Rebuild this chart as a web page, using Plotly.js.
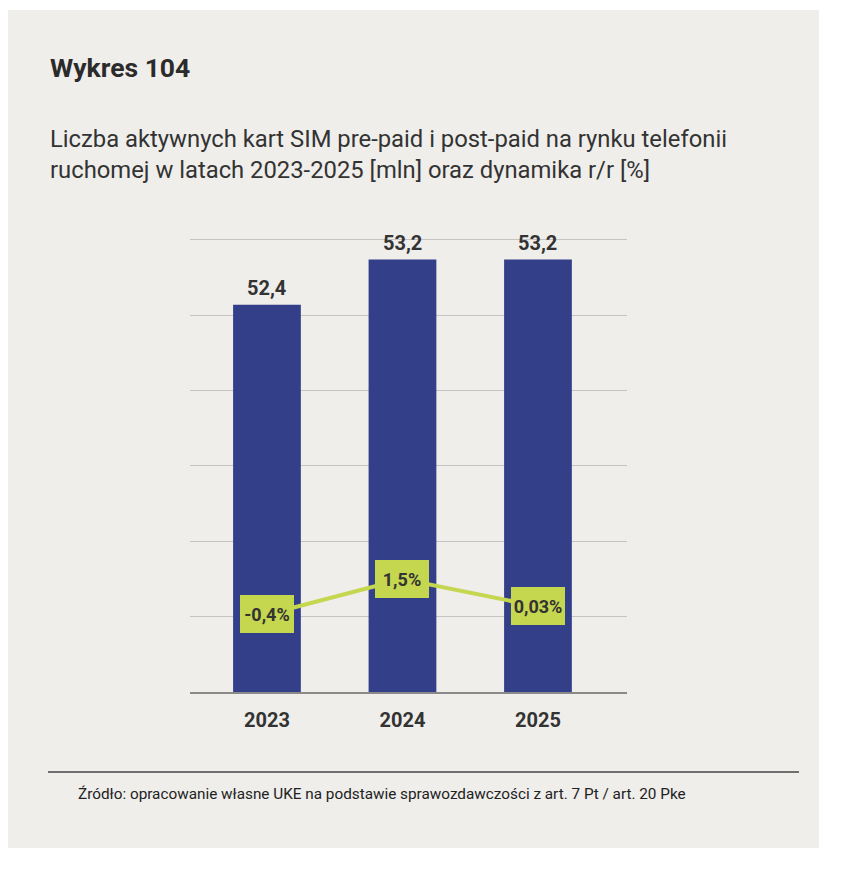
<!DOCTYPE html>
<html>
<head>
<meta charset="utf-8">
<script src="https://cdn.plot.ly/plotly-3.0.1.min.js"></script>
<style>
html,body{margin:0;padding:0;background:#ffffff;}
#chart{width:844px;height:876px;}
</style>
</head>
<body>
<div id="chart"></div>
<script>
// ---- data ----
const years = ['2023', '2024', '2025'];
const simCards = [52.4, 53.2, 53.2];           // mln
const simLabels = ['52,4', '53,2', '53,2'];
const yoyChange = [-0.4, 1.5, 0.03];           // %
const yoyLabels = ['-0,4%', '1,5%', '0,03%'];

const titleText = 'Wykres 104';
const subtitleText = 'Liczba aktywnych kart SIM pre-paid i post-paid na rynku telefonii<br>ruchomej w latach 2023-2025 [mln] oraz dynamika r/r [%]';
const sourceText = 'Źródło: opracowanie własne UKE na podstawie sprawozdawczości z art. 7 Pt / art. 20 Pke';

// category positions (index of each year)
const xPos = years.map((_, i) => i);

// ---- layout geometry (pixels) ----
const W = 844, H = 876;
const L = 190, R = 627, T = 237, B = 692;
const fx = px => (px - L) / (R - L);
const fy = py => (B - py) / (B - T);

const navy = '#333f88';
const lime = '#c5d64f';
const textDark = '#333333';
const font = 'Roboto, "Open Sans", sans-serif';

const bars = {
  type: 'bar',
  x: xPos,
  y: simCards,
  width: 0.5,
  marker: {color: navy, line: {width: 0}},
  hoverinfo: 'skip',
  showlegend: false
};

const line = {
  type: 'scatter',
  mode: 'lines',
  x: xPos,
  y: yoyChange,
  yaxis: 'y2',
  line: {color: lime, width: 4},
  hoverinfo: 'skip',
  showlegend: false
};

const annotations = [];
simCards.forEach((v, i) => {
  annotations.push({
    x: xPos[i], y: v, xref: 'x', yref: 'y',
    text: simLabels[i], showarrow: false,
    yanchor: 'bottom', yshift: 3,
    font: {family: font, size: 20, weight: 700, color: textDark}
  });
});
yoyChange.forEach((v, i) => {
  annotations.push({
    x: xPos[i], y: v, xref: 'x', yref: 'y2',
    text: yoyLabels[i], showarrow: false,
    xanchor: 'center', yanchor: 'middle',
    bgcolor: lime, borderpad: 2, borderwidth: 0,
    width: 50, height: 34,
    font: {family: font, size: 18, weight: 700, color: textDark}
  });
});
annotations.push({
  x: fx(48), y: fy(67), xref: 'paper', yref: 'paper',
  xanchor: 'left', yanchor: 'middle', showarrow: false,
  text: titleText,
  font: {family: font, size: 26.5, weight: 700, color: '#2b2b2b'}
});
annotations.push({
  x: fx(48), y: fy(154), xref: 'paper', yref: 'paper',
  xanchor: 'left', yanchor: 'middle', align: 'left', showarrow: false,
  text: subtitleText,
  font: {family: font, size: 23.8, color: textDark}
});
annotations.push({
  x: fx(76), y: fy(794), xref: 'paper', yref: 'paper',
  xanchor: 'left', yanchor: 'middle', align: 'left', showarrow: false,
  text: sourceText,
  font: {family: font, size: 15.3, color: '#222222'}
});

const shapes = [
  {type: 'rect', xref: 'paper', yref: 'paper', layer: 'below',
   x0: fx(8), x1: fx(819), y0: fy(848), y1: fy(10),
   fillcolor: '#efeeeb', line: {width: 0}},
  {type: 'line', xref: 'paper', yref: 'paper', layer: 'above',
   x0: fx(48), x1: fx(799), y0: fy(772), y1: fy(772),
   line: {color: '#707070', width: 2}}
];

const layout = {
  width: W, height: H,
  margin: {l: L, r: W - R, t: T, b: H - B, pad: 0},
  paper_bgcolor: '#ffffff',
  plot_bgcolor: 'rgba(0,0,0,0)',
  showlegend: false,
  xaxis: {
    type: 'linear',
    range: [-0.568, 2.657],
    tickmode: 'array', tickvals: xPos, ticktext: years,
    showgrid: false, zeroline: false,
    showline: true, linecolor: '#8a8a8a', linewidth: 1.5,
    ticks: '', ticklabelstandoff: 9,
    tickfont: {family: font, size: 20, weight: 700, color: textDark},
    fixedrange: true
  },
  yaxis: {
    range: [45.55, 53.6],
    tick0: 45.55, dtick: 4 / 3,
    showgrid: true, gridcolor: '#c4c4c4', gridwidth: 1,
    zeroline: false, showline: false,
    showticklabels: false, ticks: '',
    fixedrange: true
  },
  yaxis2: {
    overlaying: 'y', side: 'right',
    range: [-4.549, 19.70 + (692 - 237 - 453) / 18.68],
    showgrid: false, zeroline: false, showline: false,
    showticklabels: false, ticks: '',
    fixedrange: true
  },
  annotations: annotations,
  shapes: shapes,
  font: {family: font, color: textDark}
};

Plotly.newPlot('chart', [bars, line], layout, {displayModeBar: false, staticPlot: true});
</script>
</body>
</html>
